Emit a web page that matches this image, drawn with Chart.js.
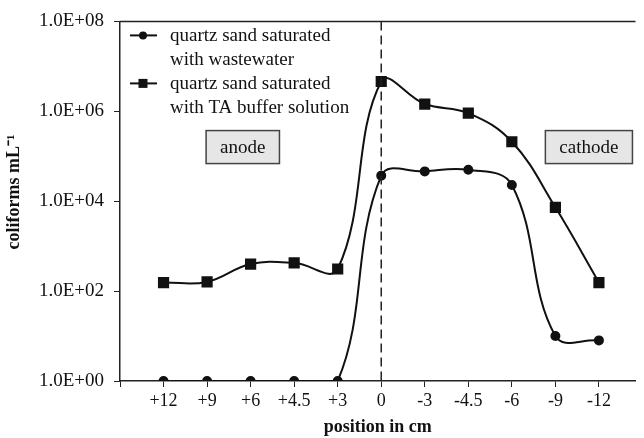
<!DOCTYPE html>
<html>
<head>
<meta charset="utf-8">
<script src="https://cdn.jsdelivr.net/npm/chart.js@4/dist/chart.umd.min.js"></script>
<style>
    html, body { margin: 0; padding: 0; background: #ffffff; }
    #wrap { width: 644px; height: 438px; }
</style>
</head>
<body>
<div id="wrap"><canvas id="chart" width="644" height="438"></canvas></div>
<script>
const positions = ["+12", "+9", "+6", "+4.5", "+3", "0", "-3", "-4.5", "-6", "-9", "-12"];
const wastewater = [1, 1, 1, 1, 1, 3.7e4, 4.6e4, 5.0e4, 2.3e4, 10, 8];
const taBuffer = [155, 160, 400, 425, 310, 4.6e6, 1.45e6, 9.1e5, 2.1e5, 7.3e3, 155];
const yTicks = [1, 1e2, 1e4, 1e6, 1e8];
const seriesNames = [
    ["quartz sand saturated", "with wastewater"],
    ["quartz sand saturated", "with TA buffer solution"]
];
const regionLabels = ["anode", "cathode"];
const regionPos = [1.82, 9.77];

const FONT = "'Liberation Serif', 'Times New Roman', serif";

function toPoints(values) {
    return values.map((v, i) => ({ x: i, y: v }));
}

function sci(v) {
    const e = Math.round(Math.log10(v));
    return "1.0E+" + String(e).padStart(2, "0");
}

// legend, zero line, electrode boxes, top frame, y title
const extras = {
    id: "extras",
    afterDatasetsDraw(chart) {
        const ctx = chart.ctx;
        const area = chart.chartArea;
        const xs = chart.scales.x;
        const ys = chart.scales.y;

        ctx.save();

        // top frame
        ctx.strokeStyle = "#222";
        ctx.lineWidth = 1.5;
        ctx.beginPath();
        ctx.moveTo(area.left, area.top);
        ctx.lineTo(area.right, area.top);
        ctx.stroke();

        // dashed line at 0 cm
        const x0 = xs.getPixelForValue(positions.indexOf("0"));
        ctx.setLineDash([9, 5]);
        ctx.lineWidth = 1.5;
        ctx.beginPath();
        ctx.moveTo(x0, area.top);
        ctx.lineTo(x0, area.bottom);
        ctx.stroke();
        ctx.setLineDash([]);

        // anode / cathode boxes
        ctx.font = "19px " + FONT;
        ctx.textAlign = "center";
        ctx.textBaseline = "middle";
        regionLabels.forEach((txt, i) => {
            const cx = xs.getPixelForValue(regionPos[i]);
            const cy = ys.getPixelForValue(1.6e5);
            const w = ctx.measureText(txt).width + 28;
            const h = 33;
            ctx.fillStyle = "#e6e6e6";
            ctx.fillRect(cx - w / 2, cy - h / 2, w, h);
            ctx.strokeStyle = "#444";
            ctx.lineWidth = 1.5;
            ctx.strokeRect(cx - w / 2, cy - h / 2, w, h);
            ctx.fillStyle = "#111";
            ctx.fillText(txt, cx, cy + 1);
        });

        // legend
        const lx = area.left + 10;
        const tx = area.left + 50;
        const lineGap = 24;
        ctx.textAlign = "left";
        ctx.font = "19px " + FONT;
        seriesNames.forEach((lines, i) => {
            const y = area.top + 14 + i * 2 * lineGap;
            ctx.strokeStyle = "#111";
            ctx.lineWidth = 2;
            ctx.beginPath();
            ctx.moveTo(lx, y);
            ctx.lineTo(lx + 27, y);
            ctx.stroke();
            ctx.fillStyle = "#111";
            if (i === 0) {
                ctx.beginPath();
                ctx.arc(lx + 13, y, 4, 0, Math.PI * 2);
                ctx.fill();
            } else {
                ctx.fillRect(lx + 8.5, y - 4.5, 9, 9);
            }
            lines.forEach((t, k) => {
                ctx.fillText(t, tx, y + k * lineGap + 1);
            });
        });

        // y axis title
        ctx.translate(14, ys.getPixelForValue(1.6e4));
        ctx.rotate(-Math.PI / 2);
        ctx.textAlign = "center";
        ctx.font = "bold 18px " + FONT;
        ctx.fillText("coliforms mL⁻¹", 0, 0);

        ctx.restore();
    }
};

new Chart(document.getElementById("chart"), {
    type: "line",
    data: {
        datasets: [
            {
                label: seriesNames[0].join(" "),
                data: toPoints(wastewater),
                borderColor: "#111",
                backgroundColor: "#111",
                borderWidth: 2,
                pointStyle: "circle",
                pointRadius: 4,
                tension: 0.4
            },
            {
                label: seriesNames[1].join(" "),
                data: toPoints(taBuffer),
                borderColor: "#111",
                backgroundColor: "#111",
                borderWidth: 2,
                pointStyle: "rect",
                pointRadius: 6.5,
                tension: 0.4
            }
        ]
    },
    options: {
        responsive: false,
        animation: false,
        layout: { padding: { top: 19, right: 0, left: 0, bottom: 0 } },
        plugins: {
            legend: { display: false },
            tooltip: { enabled: false }
        },
        scales: {
            x: {
                type: "linear",
                min: -1,
                max: 10.84,
                afterBuildTicks(scale) {
                    scale.ticks = [{ value: -1 }].concat(positions.map((p, i) => ({ value: i })));
                },
                afterFit(scale) { scale.height = 57; },
                ticks: {
                    autoSkip: false,
                    maxRotation: 0,
                    color: "#111",
                    font: { family: FONT, size: 18 },
                    padding: 3,
                    callback: v => (v >= 0 && v < positions.length) ? positions[v] : ""
                },
                grid: { drawOnChartArea: false, tickLength: 6, color: "#222" },
                border: { color: "#222", width: 1.5 },
                title: {
                    display: true,
                    text: "position in cm",
                    color: "#111",
                    font: { family: FONT, size: 18, weight: "bold" },
                    padding: { top: 0, bottom: 0 }
                }
            },
            y: {
                type: "logarithmic",
                min: 1,
                max: 1e8,
                afterBuildTicks(scale) {
                    scale.ticks = yTicks.map(v => ({ value: v }));
                },
                afterFit(scale) { scale.width = 120; },
                ticks: {
                    color: "#111",
                    font: { family: FONT, size: 19 },
                    padding: 10,
                    callback: v => sci(v)
                },
                grid: { drawOnChartArea: false, tickLength: 6, color: "#222" },
                border: { color: "#222", width: 1.5 }
            }
        }
    },
    plugins: [extras]
});
</script>
</body>
</html>
